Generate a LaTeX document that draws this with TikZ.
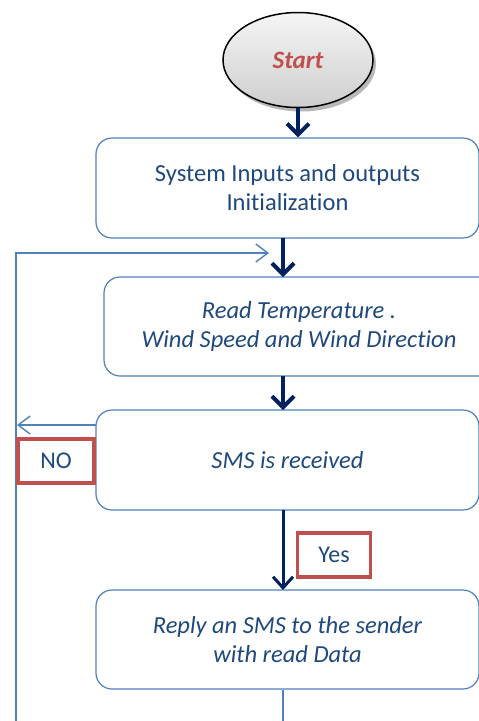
\documentclass[tikz,border=0pt]{standalone}
\usepackage{fontspec}
\setmainfont[Ligatures=NoCommon]{Carlito}
\usetikzlibrary{arrows.meta,shapes.geometric,shadows,positioning}
\definecolor{txtblue}{HTML}{1F497D}
\definecolor{edgeblue}{HTML}{4F81BD}
\definecolor{navy}{HTML}{002060}
\definecolor{tagred}{HTML}{C0504D}
\tikzset{
  stepbox/.style={draw=edgeblue, line width=1.2pt, rounded corners=16pt, fill=white,
    text=txtblue, font=\fontsize{24.5}{29}\selectfont, align=center, inner sep=0pt},
  flow/.style={draw=navy, line width=4pt, -{Straight Barb[length=11pt,width=22pt,line width=4pt]}},
  thinflow/.style={draw=navy, line width=3pt, -{Straight Barb[length=11pt,width=20pt,line width=3pt]}},
  loopline/.style={draw=edgeblue, line width=1.4pt},
  looparrow/.style={loopline, -{Straight Barb[length=12pt,width=18pt,line width=1.4pt]}},
  tag/.style={draw=tagred, line width=3.5pt, fill=white, text=txtblue,
    font=\fontsize{24}{28}\selectfont, inner sep=0pt},
}
\begin{document}
\begin{tikzpicture}[x=1pt,y=-1pt]
\useasboundingbox (0,0) rectangle (479,721);
\clip (0,0) rectangle (479,721);

% start terminal
\node[ellipse, draw=black, line width=1.5pt, minimum width=150pt, minimum height=95pt,
  top color=gray!8, bottom color=gray!38,
  drop shadow={shadow xshift=3pt, shadow yshift=-4pt, fill=gray!70, opacity=0.8},
  text=tagred, font=\fontsize{25}{28}\selectfont\bfseries\itshape]
  (start) at (298,60) {Start};

% process boxes
\node[stepbox, minimum width=383pt, minimum height=100pt] (init) at (287.5,188)
  {System Inputs and outputs\\Initialization};
\node[stepbox, minimum width=390pt, minimum height=99pt] (read) at (299,326.5)
  {\itshape Read Temperature .\\\itshape Wind Speed and Wind Direction};
\node[stepbox, minimum width=383pt, minimum height=100pt] (sms) at (287.5,460)
  {\itshape SMS is received};
\node[stepbox, minimum width=383pt, minimum height=99pt] (reply) at (287.5,639.5)
  {\itshape Reply an SMS to the sender\\\itshape with read Data};

% loop path coordinates
\coordinate (loopbottom) at (16,721);
\coordinate (loopcorner) at (16,253);
\coordinate (loopend) at (269,253);
\coordinate (nostart) at (96,425);
\coordinate (noend) at (17,425);
\coordinate (replyout) at (283,721);

% main arrows
\draw[flow] (start.south) -- (start.south |- init.north);
\draw[flow] (283,238) -- (283,277);
\draw[flow] (283,376) -- (283,410);
\draw[thinflow] (283,510) -- (283,590);

% feedback loop
\draw[loopline] (reply.south -| replyout) -- (replyout);
\draw[looparrow] (loopbottom) -- (loopcorner) -- (loopend);
\draw[looparrow] (nostart) -- (noend);

% branch labels
\node[tag, minimum width=76pt, minimum height=44pt] (no) at (56,461) {NO};
\node[tag, minimum width=73pt, minimum height=44pt] (yes) at (334,555) {Yes};
\end{tikzpicture}
\end{document}
